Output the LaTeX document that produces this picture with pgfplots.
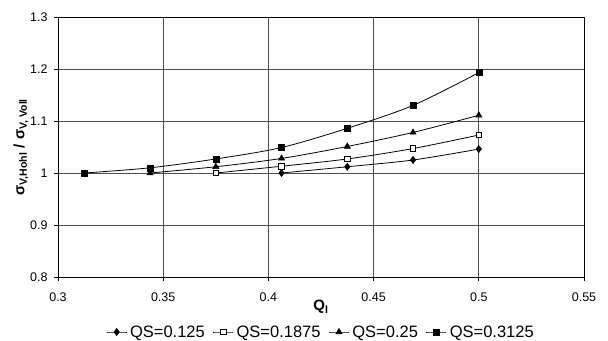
\documentclass[border=0pt]{standalone}
\usepackage{pgfplots}
\pgfplotsset{compat=1.18}
\usepackage{fontspec}
\setmainfont{Liberation Sans}
\begin{document}
\begin{tikzpicture}
\begin{axis}[
  scale only axis, width=526pt, height=260pt,
  xmin=0.3, xmax=0.55, ymin=0.8, ymax=1.3,
  xtick={0.3,0.35,0.4,0.45,0.5,0.55},
  ytick={0.8,0.9,1,1.1,1.2,1.3},
  xticklabels={0.3,0.35,0.4,0.45,0.5,0.55},
  yticklabels={0.8,0.9,1,1.1,1.2,1.3},
  grid=major,
  major grid style={draw=black!70, line width=0.7pt},
  axis line style={black, line width=0.9pt},
  tick align=outside, major tick length=4pt,
  tick style={black, line width=0.7pt},
  xtick pos=left, ytick pos=left,
  tick label style={font=\fontsize{12.5}{14}\selectfont},
  xticklabel style={anchor=center, yshift=-20pt+4pt},
  yticklabel style={anchor=east, xshift=-7pt+4pt},
  xlabel={\textbf{Q\textsubscript{l}}},
  ylabel={\textbf{σ\textsubscript{V,Hohl} / σ\textsubscript{V, Voll}}},
  every axis x label/.style={at={(rel axis cs:0.5,0)}, anchor=center, yshift=-30pt, font=\fontsize{15}{17}\selectfont},
  every axis y label/.style={at={(rel axis cs:0,0.5)}, rotate=90, anchor=center, yshift=37pt, font=\fontsize{15}{17}\selectfont},
  legend columns=4,
  legend style={draw=none, fill=none, at={(rel axis cs:0.5,0)}, anchor=center, yshift=-55pt,
    font=\fontsize{16.5}{18}\selectfont, inner sep=0pt,
    /tikz/every odd column/.append style={column sep=1pt},
    /tikz/every even column/.append style={column sep=6pt}},
  legend image code/.code={\draw[#1, mark repeat=2, mark phase=2] plot coordinates {(0pt,0pt) (10pt,0pt) (20pt,0pt)};},
  every axis plot/.append style={black, line width=0.8pt, smooth, tension=0.5},
]
\addplot[mark=diamond*, mark size=3.6pt, mark options={fill=black, line width=0.5pt}]
  coordinates {(0.40625,1.0) (0.4375,1.012) (0.46875,1.025) (0.5,1.046)};
\addlegendentry{QS=0.125}
\addplot[mark=square*, mark size=2.8pt, mark options={fill=white, line width=0.8pt}]
  coordinates {(0.375,1.0) (0.40625,1.013) (0.4375,1.027) (0.46875,1.047) (0.5,1.073)};
\addlegendentry{QS=0.1875}
\addplot[mark=triangle*, mark size=3.6pt, mark options={fill=black, line width=0.5pt}]
  coordinates {(0.34375,1.0) (0.375,1.012) (0.40625,1.028) (0.4375,1.051) (0.46875,1.078) (0.5,1.111)};
\addlegendentry{QS=0.25}
\addplot[mark=square*, mark size=3pt, mark options={fill=black, line width=0.5pt}]
  coordinates {(0.3125,1.0) (0.34375,1.010) (0.375,1.027) (0.40625,1.049) (0.4375,1.086) (0.46875,1.130) (0.5,1.193)};
\addlegendentry{QS=0.3125}
\end{axis}
\pgfresetboundingbox
\path ([xshift=-58pt,yshift=-64pt]current axis.south west) rectangle ([xshift=24pt,yshift=17pt]current axis.north east);
\end{tikzpicture}
\end{document}
